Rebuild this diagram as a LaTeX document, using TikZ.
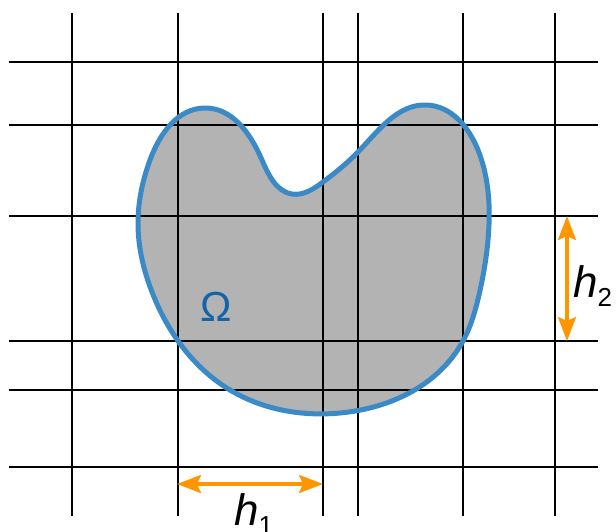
\documentclass[tikz,border=0pt]{standalone}
\usepackage{fontspec}
\setmainfont{Liberation Sans}
\usetikzlibrary{arrows.meta,hobby}
\definecolor{blobblue}{RGB}{58,138,200}
\definecolor{omegablue}{RGB}{20,100,170}
\definecolor{blobgray}{RGB}{179,179,179}
\definecolor{dimorange}{RGB}{255,150,0}
\tikzset{
  gridline/.style={line width=1.8pt, black},
  blobpath/.style={use Hobby shortcut, closed=true},
  dimarrow/.style={line width=3.3pt, dimorange, {Stealth[length=24pt,width=18pt,inset=4pt]}-{Stealth[length=24pt,width=18pt,inset=4pt]}},
  dimlabel/.style={anchor=base west, inner sep=0pt, font=\fontsize{44}{48}\selectfont},
}
\begin{document}
\begin{tikzpicture}[x=1pt,y=-1pt]
\useasboundingbox (0,0) rectangle (616,531);
% blob
\def\blob{(138,225) .. (150,160) .. (205,108) .. (262,160) .. (292,194) .. (323,182) .. (358,152) .. (427,105) .. (478,150) .. (488,240) .. (479,295) .. (463,341) .. (340,413) .. (230,390) .. (152,292)}
\fill[blobgray, blobpath] \blob;
% grid
\foreach \x in {72,178,323,358,463,555} \draw[gridline] (\x,13) -- (\x,516);
\foreach \y in {62,125,216,341,390,467} \draw[gridline] (9,\y) -- (598,\y);
% outline
\draw[blobblue, line width=5pt, blobpath] \blob;
\node[anchor=base west, inner sep=0pt, text=omegablue, font=\fontsize{42}{46}\selectfont] (omega) at (200,321) {Ω};
% dimensions
\coordinate (a1) at (177,484);
\coordinate (b1) at (323,484);
\coordinate (a2) at (567,216);
\coordinate (b2) at (567,341);
\draw[dimarrow] (a1) -- (b1);
\draw[dimarrow] (a2) -- (b2);
\node[dimlabel] (h1) at (234,525) {\textit{h}\textsubscript{\fontsize{26}{28}\selectfont 1}};
\node[dimlabel] (h2) at (573,297) {\textit{h}\textsubscript{\fontsize{26}{28}\selectfont 2}};
\end{tikzpicture}
\end{document}
